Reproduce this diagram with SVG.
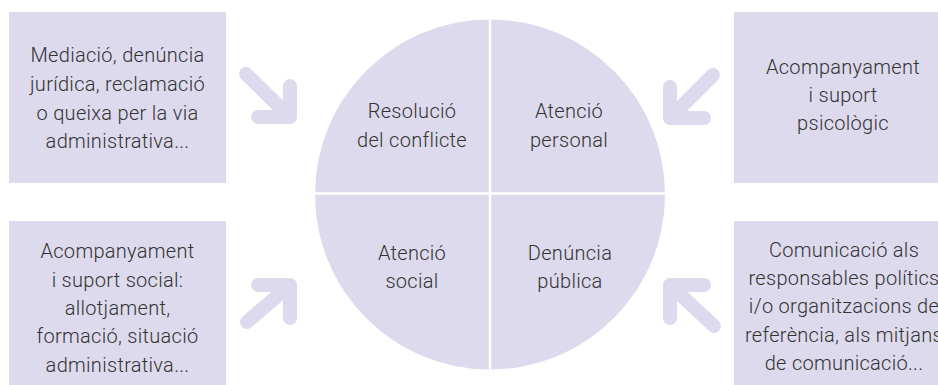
<svg xmlns="http://www.w3.org/2000/svg" width="938" height="385" viewBox="0 0 938 385">
<style>
.box{fill:#dddaed}
.circ{fill:#dddaed}
.div{stroke:#ffffff;stroke-width:2.5;fill:none}
.arr{stroke:#dddaed;stroke-width:14;fill:none;stroke-linecap:round;stroke-linejoin:round}
text{font-family:Roboto,"Liberation Sans",sans-serif;font-weight:300;font-size:20px;letter-spacing:0.3px;fill:#333333;text-anchor:middle}
</style>
<rect width="938" height="385" fill="#ffffff"/>
<g id="center">
<circle class="circ" cx="490" cy="194.5" r="175"/>
<line class="div" x1="490" y1="15" x2="490" y2="375"/>
<line class="div" x1="310" y1="193.5" x2="670" y2="193.5"/>
</g>
<g id="q-resolucio"><text x="412" y="118">Resolució</text><text x="412" y="147">del conflicte</text></g>
<g id="q-personal"><text x="569" y="118">Atenció</text><text x="569" y="147">personal</text></g>
<g id="q-social"><text x="412" y="260">Atenció</text><text x="412" y="288">social</text></g>
<g id="q-publica"><text x="570" y="260">Denúncia</text><text x="570" y="288">pública</text></g>
<g id="box-tl">
<rect class="box" x="9" y="12" width="217" height="171"/>
<text x="117.5" y="62">Mediació, denúncia</text>
<text x="117.5" y="91">jurídica, reclamació</text>
<text x="117.5" y="120">o queixa per la via</text>
<text x="117.5" y="148">administrativa...</text>
</g>
<g id="box-bl">
<rect class="box" x="9" y="221" width="217" height="170"/>
<text x="117.5" y="258">Acompanyament</text>
<text x="117.5" y="287">i suport social:</text>
<text x="117.5" y="315">allotjament,</text>
<text x="117.5" y="343">formació, situació</text>
<text x="117.5" y="372">administrativa...</text>
</g>
<g id="box-tr">
<rect class="box" x="734" y="12" width="217" height="171"/>
<text x="843" y="74">Acompanyament</text>
<text x="843" y="102">i suport</text>
<text x="843" y="130">psicològic</text>
</g>
<g id="box-br">
<rect class="box" x="734" y="221" width="217" height="170"/>
<text x="844" y="257">Comunicació als</text>
<text x="844" y="285">responsables polítics</text>
<text x="844" y="313">i/o organitzacions de</text>
<text x="844" y="342">referència, als mitjans</text>
<text x="844" y="370">de comunicació...</text>
</g>
<g id="connectors">
<path class="arr" d="M246,74 L290,117 M258,117 L290,117 L290,86"/>
<path class="arr" d="M247,322 L290,285 M258,285 L290,285 L290,318"/>
<path class="arr" d="M713,75 L670,118 M704,118 L670,118 L670,87"/>
<path class="arr" d="M714,326 L670,285 M704,285 L670,285 L670,318"/>
</g>
</svg>
